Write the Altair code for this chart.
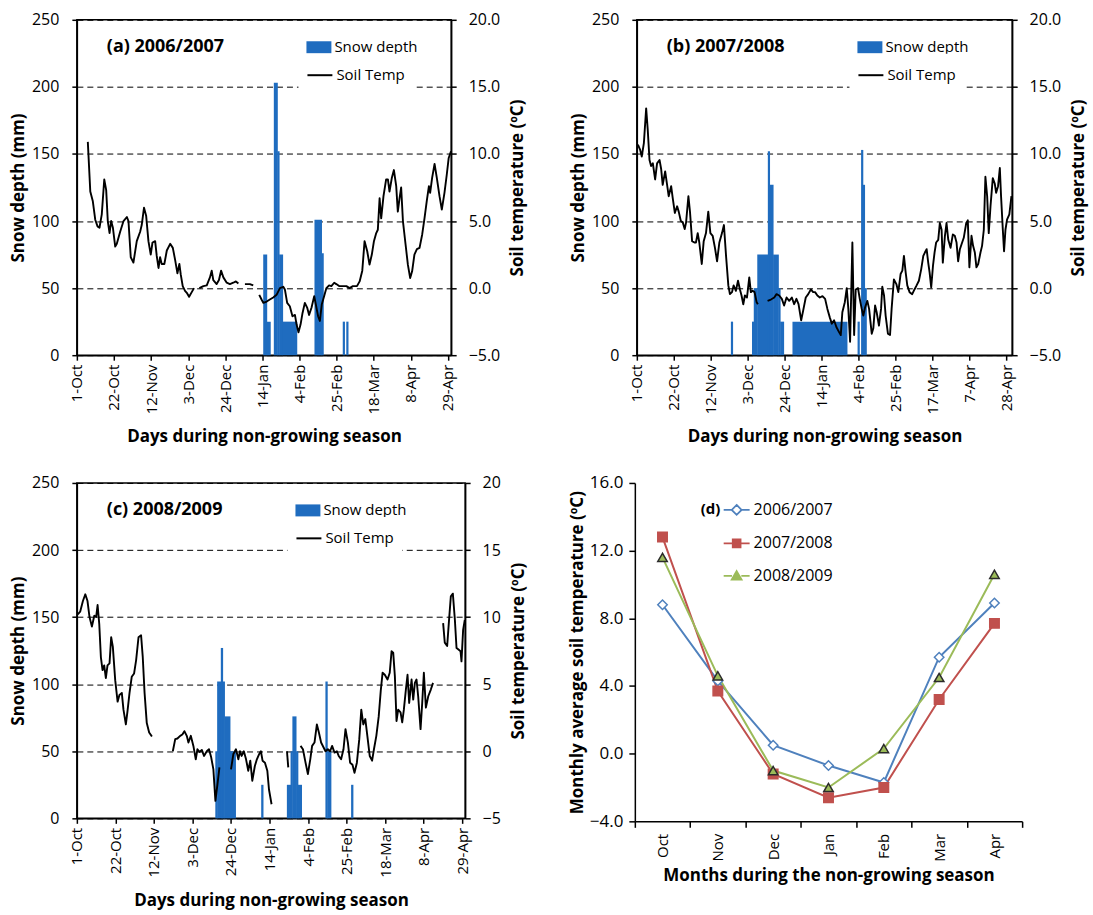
import altair as alt
import pandas as pd

FONT = "Open Sans"
BAR_BLUE = "#1f6cbf"

TICKS_AC = ["1-Oct", "22-Oct", "12-Nov", "3-Dec", "24-Dec", "14-Jan", "4-Feb", "25-Feb", "18-Mar", "8-Apr", "29-Apr"]
TICKS_B = ["1-Oct", "22-Oct", "12-Nov", "3-Dec", "24-Dec", "14-Jan", "4-Feb", "25-Feb", "17-Mar", "7-Apr", "28-Apr"]

# ---------------- (a) 2006/2007 ----------------
A_SNOW_DAY = [106, 107, 108, 109, 112, 113, 114, 115, 116, 117, 118, 119, 120, 121, 122, 123, 124,
              135, 136, 137, 138, 139, 151, 153]
A_SNOW_MM = [75, 75, 25, 25, 203, 203, 152, 75, 75, 25, 25, 25, 25, 25, 25, 25, 25,
             101, 101, 101, 101, 76, 25, 25]
A_T_DAY = [6.2, 7.6, 9.0, 10.4, 11.7, 12.8, 14.1, 15.5, 16.6, 17.5, 18.5, 19.4, 20.4, 21.7, 22.6, 24.5,
           26.4, 28.3, 29.2, 30.5, 32.0, 33.9, 35.8, 36.7, 38.0, 39.2, 40.5, 41.8, 42.8, 44.3, 45.2,
           46.2, 47.1, 48.0, 49.5, 50.9, 52.8, 54.3, 55.6, 56.9, 58.0, 58.8, 59.9, 61.2, 62.2, 63.5,
           65.0, 66.3, 67.5, 69.3, 71.6, 73.5, 75.3, 76.3, 77.2, 79.1, 80.4, 81.6, 82.9, 84.8, 86.6,
           88.5, 90.0, 91.4, 93.0, 95.1, 97.9, 99.8, 101.5, 103.2, 104.5, 105.5, 107.4, 109.2, 111.1,
           113.0, 114.9, 116.8, 117.7, 119.0, 120.5, 122.0, 123.4, 124.3, 125.4, 126.6, 127.7, 129.0,
           130.3, 131.4, 132.8, 134.3, 135.2, 136.5, 137.5, 138.6, 139.9, 141.2, 142.7, 144.0, 145.6,
           146.8, 148.4, 150.2, 152.5, 154.3, 156.2, 158.5, 160.0, 161.5, 162.8, 164.3, 165.6, 166.9,
           168.1, 169.4, 170.3, 171.3, 172.2, 173.5, 175.0, 176.0, 176.9, 178.2, 179.4, 180.7, 181.6,
           182.6, 183.5, 184.5, 186.0, 187.3, 188.6, 189.7, 191.0, 192.4, 193.9, 195.4, 196.7, 198.0,
           199.2, 199.9, 201.0, 202.4, 203.7, 205.2, 206.5, 208.0, 209.3, 210.4, 211.7]
A_T_VAL = [10.9, 7.2, 6.5, 5.1, 4.6, 4.5, 5.5, 8.1, 7.3, 5.0, 4.1, 5.0, 4.5, 3.1, 3.3, 4.2,
           5.0, 5.3, 5.0, 2.3, 1.9, 3.5, 4.2, 4.7, 6.0, 5.4, 3.5, 2.5, 3.4, 3.5, 2.4,
           1.5, 2.3, 1.8, 1.8, 2.8, 3.3, 3.0, 2.1, 1.1, 1.8, 1.0, 0.15, -0.2, -0.35, -0.65,
           -0.3, 0.0, None, 0.0, 0.15, 0.2, 0.8, 1.3, 0.6, 0.3, 0.6, 1.3, 0.8, 0.4, 0.3,
           0.4, 0.5, 0.35, None, 0.3, 0.3, 0.2, None, -0.5, -0.85, -1.1, -1.0, -0.85, -0.7,
           -0.5, 0.0, 0.1, -0.1, -1.1, -1.35, -2.1, -2.0, -2.7, -3.3, -2.7, -1.85, -1.1,
           -1.45, -2.0, -1.45, -0.6, -1.2, -2.1, -2.45, -1.2, -0.6, 0.0, 0.2, 0.15, 0.4,
           0.3, 0.15, 0.15, 0.15, 0.0, 0.15, 0.15, 0.5, 1.3, 3.5, 2.75, 1.75, 2.5,
           3.5, 4.1, 4.35, 6.7, 5.2, 6.85, 8.1, 8.1, 7.2, 8.2, 8.8, 7.6, 5.7,
           6.7, 7.5, 5.0, 3.25, 1.75, 0.75, 1.25, 2.5, 2.9, 3.0, 4.0, 5.2, 6.5,
           7.6, 7.1, 8.2, 9.25, 8.2, 6.85, 5.85, 7.1, 8.45, 9.7, 10.2]

# ---------------- (b) 2007/2008 ----------------
B_SNOW_DAY = [54, 66, 67, 68, 69, 70, 71, 72, 73, 74, 75, 76, 77, 78, 79, 80, 81, 82, 83]
B_SNOW_DAY += list(range(89, 120)) + [126, 128, 129, 130]
B_SNOW_MM = [25, 25, 50, 50, 75, 75, 75, 75, 75, 75, 152, 127, 127, 75, 75, 75, 50, 25, 25]
B_SNOW_MM += [25] * 31 + [25, 153, 127, 50]
B_T_DAY = [0.6, 1.9, 2.8, 4.0, 5.3, 6.2, 7.2, 8.1, 9.1, 10.4, 11.5, 12.9, 13.8, 14.7, 16.1, 17.2,
           18.1, 19.5, 20.4, 21.6, 22.9, 23.8, 25.0, 26.1, 27.2, 28.0, 29.3, 30.2, 31.4, 32.7, 33.6,
           34.6, 35.5, 36.9, 38.0, 39.3, 40.6, 41.8, 43.1, 44.4, 45.6, 46.9, 48.4, 49.5, 50.7, 52.0,
           52.9, 54.1, 55.0, 56.3, 57.5, 58.6, 59.5, 60.5, 61.4, 62.6, 63.9, 64.8, 65.8, 66.9, 68.1,
           68.8, 71.0, 74.3, 76.2, 78.1, 79.4, 80.9, 82.4, 83.7, 85.1, 86.6, 88.1, 89.4, 90.7, 91.9,
           93.4, 94.5, 96.0, 97.4, 98.9, 100.2, 101.3, 102.6, 104.0, 105.5, 107.0, 108.3, 109.7,
           110.8, 112.1, 113.4, 115.0, 115.9, 116.8, 118.2, 119.3, 120.2, 121.2, 122.5, 123.5, 124.4,
           125.7, 126.7, 127.8, 128.7, 129.7, 131.0, 132.0, 133.5, 134.4, 135.4, 136.3, 137.6, 138.8,
           139.5, 140.5, 141.4, 142.7, 143.9, 144.8, 146.1, 147.5, 148.6, 149.9, 150.9, 151.8, 152.8,
           153.7, 155.0, 156.5, 157.8, 159.0, 160.3, 161.6, 162.8, 163.7, 164.7, 165.6, 166.4, 167.3,
           168.3, 169.2, 170.1, 171.3, 172.2, 173.2, 173.9, 175.1, 176.0, 177.0, 178.3, 179.6, 180.7,
           181.7, 182.6, 183.6, 184.5, 185.8, 187.2, 188.1, 189.0, 190.2, 191.1, 192.1, 193.0, 194.0,
           195.3, 196.2, 197.2, 198.1, 199.1, 200.0, 201.0, 202.3, 203.4, 204.2, 205.3, 206.3, 207.0,
           208.0, 208.7, 209.5, 210.4, 211.7, 212.9]
B_T_VAL = [10.7, 10.3, 9.8, 10.8, 13.4, 11.8, 9.55, 9.1, 9.3, 8.1, 9.3, 9.55, 8.9, 7.7, 8.7, 7.7,
           6.85, 7.6, 6.7, 5.6, 6.1, 5.7, 5.0, 4.9, 4.4, 4.9, 6.85, 5.7, 3.5, 3.4, 3.4,
           4.1, 3.4, 1.8, 3.5, 4.1, 5.7, 4.1, 3.9, 3.0, 2.0, 3.4, 4.1, 4.7, 2.4, 0.2,
           -0.45, -0.3, 0.2, -0.2, 0.55, -0.1, -0.55, -1.2, -0.55, -0.7, 0.8, -0.3, -0.2, -0.3, -1.05,
           -1.2, None, -0.95, -0.85, -0.7, -0.45, -0.55, -0.8, -1.3, -0.7, -0.95, -0.7, -1.2, -0.8, -1.2,
           -2.4, -1.7, -0.7, -0.45, -0.1, -0.3, -0.3, -0.55, -0.7, -0.6, -0.8, -1.55, -2.2,
           -2.65, -2.4, -2.9, -3.3, -3.5, -1.8, -1.05, 0.0, -1.55, -4.0, 3.4, -3.5, -0.1,
           0.0, -0.8, -1.55, -2.05, -1.45, -0.95, -1.55, -3.4, -3.0, -1.3, -1.8, -2.8, -1.55,
           0.1, -0.55, -2.05, -3.4, -3.5, -1.55, 0.65, 0.3, -0.3, 1.05, 1.3, 2.4, 1.15,
           0.2, -0.3, -0.45, -0.1, 0.2, 0.55, 1.4, 2.4, 2.65, 2.9, 1.9, 1.15, 0.05,
           1.65, 2.65, 3.4, 3.6, 4.85, 4.35, 1.9, 3.9, 4.85, 3.6, 3.0, 4.0, 3.9,
           3.4, 2.0, 2.9, 3.25, 3.75, 4.85, 5.05, 1.55, 3.9, 3.15, 2.65, 1.55, 1.8,
           2.65, 3.15, 4.35, 8.3, 6.85, 4.1, 6.1, 8.2, 7.8, 7.1, 7.6, 8.95, 6.85,
           4.35, 2.75, 4.35, 5.1, 5.5, 6.85]

# ---------------- (c) 2008/2009 ----------------
C_SNOW_DAY = [76, 77, 78, 79, 80, 81, 82, 83, 84, 85, 86, 101, 115, 116, 117, 118, 119, 120, 121, 122,
              136, 137, 138, 150]
C_SNOW_MM = [50, 102, 102, 127, 102, 76, 76, 76, 50, 50, 50, 25, 25, 25, 50, 76, 76, 50, 25, 25,
             102, 50, 50, 25]
C_T_DAY = [0.5, 1.8, 3.3, 4.6, 5.8, 6.9, 8.2, 9.5, 10.5, 11.3, 12.2, 13.1, 14.0, 14.9, 15.8, 16.7, 17.8,
           18.7, 19.6, 20.9, 22.2, 23.2, 24.5, 25.4, 26.7, 27.6, 28.7, 29.9, 31.2, 32.3, 33.6, 35.0,
           35.9, 36.9, 38.1, 39.4, 40.9, 46.0, 52.3, 53.6, 54.8, 56.3, 57.5, 58.6, 59.9, 60.8, 62.1,
           63.5, 64.8, 65.7, 66.8, 68.1, 69.3, 70.8, 72.0, 73.2, 74.4, 75.5, 76.5, 77.7, 80.0, 84.0,
           85.3, 86.7, 88.0, 88.9, 89.8, 91.0, 92.2, 93.4, 94.5, 95.6, 97.0, 98.1, 99.4, 100.3, 101.2,
           102.5, 103.8, 104.7, 106.1, 110.0, 114.5, 115.2, 118.0, 121.9, 123.2, 124.4, 125.9, 127.2,
           128.2, 129.5, 130.8, 131.9, 133.1, 134.4, 135.5, 136.8, 138.0, 139.1, 140.4, 141.7, 142.7,
           144.0, 145.3, 146.4, 147.7, 148.9, 150.2, 151.3, 152.6, 153.9, 155.0, 156.1, 157.2, 158.3,
           159.6, 160.9, 161.9, 163.2, 164.5, 165.6, 166.6, 167.8, 169.3, 170.5, 171.5, 172.4, 173.3,
           174.2, 175.1, 176.4, 177.3, 178.2, 179.3, 180.2, 181.1, 182.4, 183.3, 184.2, 185.1, 186.0,
           187.3, 188.2, 189.1, 190.2, 191.5, 192.9, 194.1, 197.0, 199.6, 200.5, 201.8, 202.7, 203.8,
           204.9, 206.0, 206.9, 207.8, 209.1, 209.6, 210.5, 211.4]
C_T_VAL = [10.2, 10.4, 11.2, 11.7, 11.2, 10.0, 9.3, 10.1, 10.0, 10.9, 9.5, 7.0, 6.05, 6.4, 5.45, 6.4, 6.55,
           8.5, 7.8, 5.3, 3.7, 4.2, 4.35, 3.1, 2.0, 3.0, 4.35, 5.55, 5.8, 6.8, 8.5, 8.65,
           7.05, 4.35, 2.1, 1.4, 1.1, None, 0.0, 0.9, 0.95, 1.15, 1.25, 1.5, 1.15, 0.65, 1.15,
           0.4, -0.6, 0.15, -0.05, 0.1, -0.35, 0.0, 0.15, -0.45, -1.35, -3.7, -2.6, -1.2, None, -1.35,
           -0.2, 0.15, -0.6, 0.0, -0.35, 0.0, -0.6, -1.45, -0.7, -2.2, -1.1, -0.6, -0.2, 0.0, -0.7,
           -0.85, -1.45, -2.85, -3.95, None, 0.0, -1.2, None, 0.4, 0.15, -0.7, -1.7, -0.6,
           0.4, 0.65, 2.0, 1.4, 0.65, 0.3, 0.0, 0.15, 0.0, 0.4, -0.1, 0.0, -0.35,
           -0.6, 0.15, 1.65, 0.65, -0.85, -1.0, -1.6, -0.85, 0.9, 3.1, 2.0, 2.4, 1.15,
           -0.35, -0.7, 0.15, 1.15, 2.6, 4.5, 5.85, 5.7, 5.35, 5.85, 7.45, 7.35, 5.6,
           2.25, 3.1, 2.9, 2.15, 3.1, 4.6, 5.7, 3.6, 5.35, 3.85, 5.1, 5.35, 4.1,
           1.65, 3.6, 5.85, 3.25, 4.1, 4.6, 5.1, None, 9.55, 8.1, 7.85, 9.55, 11.55,
           11.75, 9.8, 7.7, 7.6, 7.45, 6.7, 9.05, 9.8]

# ---------------- (d) monthly means ----------------
MONTHS = ["Oct", "Nov", "Dec", "Jan", "Feb", "Mar", "Apr"]
SERIES = ["2006/2007", "2007/2008", "2008/2009"]
D_2006_2007 = [8.8, 4.3, 0.5, -0.7, -1.7, 5.7, 8.9]
D_2007_2008 = [12.8, 3.7, -1.2, -2.6, -2.0, 3.2, 7.7]
D_2008_2009 = [11.6, 4.6, -1.0, -2.0, 0.3, 4.5, 10.6]
LINE_COLORS = ["#4f81bd", "#c0504d", "#9bbb59"]
MARK_FILLS = ["white", "#c0504d", "#9bbb59"]
MARK_STROKES = ["#4f81bd", "#c0504d", "#2b2b2b"]
MARK_SHAPES = ["diamond", "square", "triangle-up"]
# legend glyphs: a short line through the marker
LEGEND_GLYPHS = [
    "M-1,0H-0.38M0.38,0H1M0,-0.38L0.38,0L0,0.38L-0.38,0Z",
    "M-1,0H-0.3M0.3,0H1M-0.3,-0.3H0.3V0.3H-0.3Z",
    "M-1,0H-0.36M0.36,0H1M0,-0.36L0.38,0.3H-0.38Z",
]
LEGEND_STROKES = ["#4f81bd", "#c0504d", "#9bbb59"]

RECT_SYMBOL = "M-1,-0.48H1V0.48H-1Z"


def temp_frame(days, vals):
    rows = []
    seg = 0
    for d, v in zip(days, vals):
        if v is None:
            seg += 1
            continue
        rows.append({"day": d, "t": v, "seg": seg, "s": "Soil Temp"})
    return pd.DataFrame(rows)


def snow_frame(days, mm):
    # merge consecutive days of equal depth into one column block (one bar per day, drawn abutting)
    runs = []
    start = prev = days[0]
    val = mm[0]
    for d, v in zip(days[1:], mm[1:]):
        if d == prev + 1 and v == val:
            prev = d
            continue
        runs.append((start, prev, val))
        start = prev = d
        val = v
    runs.append((start, prev, val))
    return pd.DataFrame({"x0": [r[0] - 0.55 for r in runs], "x1": [r[1] + 0.7 for r in runs],
                         "mm": [r[2] for r in runs], "base": 0, "s": "Snow depth"})


def season_panel(label, snow_days, snow_mm, t_days, t_vals, tick_labels, xmax, width, height,
                 right_fmt, leg_x, leg_y1, leg_y2):
    snow = snow_frame(snow_days, snow_mm)
    temp = temp_frame(t_days, t_vals)
    expr = "[" + ",".join("'%s'" % t for t in tick_labels) + "][round(datum.value/21)]"
    xscale = alt.Scale(domain=[0, xmax], nice=False, zero=False)
    xaxis = alt.Axis(values=list(range(0, 211, 21)), labelExpr=expr, labelAngle=270,
                     title="Days during non-growing season", labelPadding=4,
                     titlePadding=15, grid=False, labelFontSize=15)
    bars = alt.Chart(snow).mark_bar().encode(
        x=alt.X("x0:Q", scale=xscale, axis=xaxis),
        x2="x1:Q",
        y=alt.Y("mm:Q", scale=alt.Scale(domain=[0, 250], nice=False, zero=True),
                axis=alt.Axis(values=[0, 50, 100, 150, 200, 250], title="Snow depth (mm)",
                              grid=True, gridColor="black", gridDash=[6, 4], gridWidth=1,
                              labelPadding=13, titlePadding=4)),
        y2="base:Q",
        fill=alt.Fill("s:N", scale=alt.Scale(range=[BAR_BLUE]),
                      legend=alt.Legend(orient="none", legendX=leg_x, legendY=leg_y1, title=None,
                                        symbolType=RECT_SYMBOL, symbolSize=625, symbolStrokeWidth=0,
                                        labelFontSize=15, labelFont=FONT, labelColor="black",
                                        padding=0, labelOffset=3)),
    )
    line = alt.Chart(temp).mark_line(strokeWidth=1.9, strokeJoin="round").encode(
        x=alt.X("day:Q", scale=xscale, axis=xaxis),
        y=alt.Y("t:Q", scale=alt.Scale(domain=[-5, 20], nice=False, zero=False),
                axis=alt.Axis(orient="right", values=[-5, 0, 5, 10, 15, 20], format=right_fmt,
                              title="Soil temperature (ºC)", titleAngle=270, titleBaseline="top",
                              grid=False, labelPadding=12, titlePadding=10)),
        detail="seg:N",
        stroke=alt.Stroke("s:N", scale=alt.Scale(range=["black"]),
                          legend=alt.Legend(orient="none", legendX=leg_x - 8, legendY=leg_y2, title=None,
                                            symbolType="stroke", symbolSize=625, symbolStrokeWidth=2,
                                            labelFontSize=15, labelFont=FONT, labelColor="black",
                                            fillColor="white", padding=8, labelOffset=3)),
    )
    txt = alt.Chart(pd.DataFrame({"t": [label]})).mark_text(
        align="left", baseline="middle", fontWeight="bold", fontSize=18, font=FONT, color="black"
    ).encode(text="t:N", x=alt.value(30), y=alt.value(27))
    return alt.layer(bars, line, txt).resolve_scale(y="independent").properties(width=width, height=height)


pa = season_panel("(a) 2006/2007", A_SNOW_DAY, A_SNOW_MM, A_T_DAY, A_T_VAL, TICKS_AC, 211.8, 375, 336,
                  ".1f", 230, 15, 34)
pb = season_panel("(b) 2007/2008", B_SNOW_DAY, B_SNOW_MM, B_T_DAY, B_T_VAL, TICKS_B, 213.3, 376, 336,
                  ".1f", 221, 15, 34)
pc = season_panel("(c) 2008/2009", C_SNOW_DAY, C_SNOW_MM, C_T_DAY, C_T_VAL, TICKS_AC, 211.6, 389, 336,
                  "d", 219, 15, 34)

# panel d
rows = []
for name, vals in zip(SERIES, [D_2006_2007, D_2007_2008, D_2008_2009]):
    for m, v in zip(MONTHS, vals):
        rows.append({"month": m, "val": v, "series": name, "series2": name})
dd = pd.DataFrame(rows)

xd = alt.X("month:N", sort=MONTHS,
           scale=alt.Scale(paddingInner=0, paddingOuter=0),
           axis=alt.Axis(labelAngle=270, tickBand="extent", title="Months during the non-growing season",
                         labelPadding=6, titlePadding=6, tickSize=6, labelFontSize=15))
yd = alt.Y("val:Q", scale=alt.Scale(domain=[-4, 16], nice=False, zero=False),
           axis=alt.Axis(values=[-4, 0, 4, 8, 12, 16], format=".1f", grid=False, labelFontSize=17,
                         title="Monthly average soil temperature (ºC)", labelPadding=6, titlePadding=3,
                         tickSize=6))
dlines = alt.Chart(dd).mark_line(strokeWidth=2).encode(
    x=xd, y=yd,
    color=alt.Color("series:N", scale=alt.Scale(range=LINE_COLORS), legend=None),
)
dpoints = alt.Chart(dd).mark_point(filled=True, size=90, opacity=1, strokeWidth=1.5).encode(
    x=xd, y=yd,
    shape=alt.Shape("series:N", scale=alt.Scale(range=MARK_SHAPES), legend=None),
    fill=alt.Fill("series:N", scale=alt.Scale(range=MARK_FILLS), legend=None),
    stroke=alt.Stroke("series:N", scale=alt.Scale(range=MARK_STROKES), legend=None),
)
dleg = alt.Legend(orient="none", legendX=88, legendY=13, title=None, symbolSize=676,
                  symbolStrokeWidth=1.8, labelFontSize=16, labelFont=FONT, labelColor="black",
                  rowPadding=10.5, padding=0, labelOffset=3)
dlegend_layer = alt.Chart(dd).transform_filter("false").mark_point(filled=True, opacity=1).encode(
    x=xd, y=yd,
    shape=alt.Shape("series2:N", scale=alt.Scale(domain=SERIES, range=LEGEND_GLYPHS), legend=dleg),
    fill=alt.Fill("series2:N", scale=alt.Scale(domain=SERIES, range=MARK_FILLS), legend=dleg),
    stroke=alt.Stroke("series2:N", scale=alt.Scale(domain=SERIES, range=LEGEND_STROKES), legend=dleg),
)
dtxt = alt.Chart(pd.DataFrame({"t": ["(d)"]})).mark_text(
    align="left", baseline="middle", fontWeight="bold", fontSize=15, font=FONT, color="black"
).encode(text="t:N", x=alt.value(66), y=alt.value(26))
pd_panel = alt.layer(dlines, dpoints, dlegend_layer, dtxt).resolve_scale(
    shape="independent", fill="independent", stroke="independent"
).properties(width=388, height=339, view=alt.ViewBackground(strokeOpacity=0))

indep = dict(fill="independent", stroke="independent", color="independent", shape="independent")
top = alt.hconcat(pa, pb, spacing=41).resolve_scale(**indep).resolve_legend(**indep)
bottom = alt.hconcat(pc, pd_panel, spacing=40).resolve_scale(**indep).resolve_legend(**indep)

chart = alt.vconcat(top, bottom, spacing=28).resolve_scale(**indep).resolve_legend(**indep).properties(
    padding={"left": 8, "top": 10, "right": 5, "bottom": 5}
).configure(font=FONT).configure_view(stroke="black", strokeWidth=1.5).configure_axis(
    labelFont=FONT, titleFont=FONT, labelFontSize=16, titleFontSize=17, titleFontWeight="bold",
    labelColor="black", titleColor="black", domainColor="black", domainWidth=1.5,
    tickColor="black", tickWidth=1.5, tickSize=5
)

chart.save("out.html", embed_options={"renderer": "svg", "actions": False})
